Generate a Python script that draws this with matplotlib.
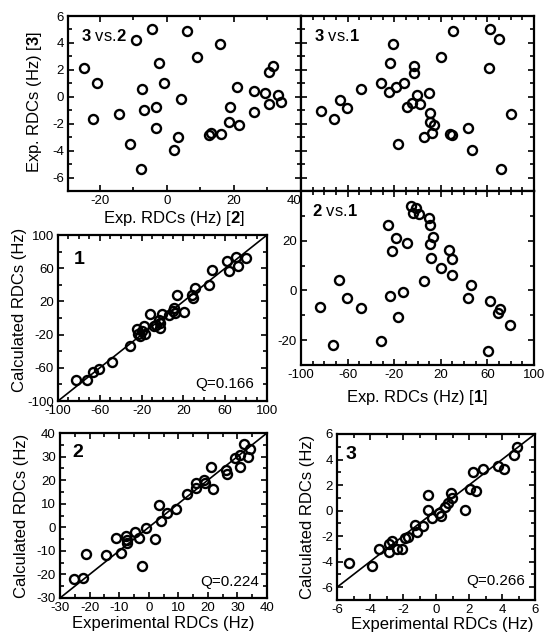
import matplotlib
matplotlib.use("Agg")
import matplotlib.pyplot as plt
from matplotlib.ticker import MultipleLocator

plt.rcParams['font.family'] = ['Liberation Sans', 'DejaVu Sans']
plt.rcParams['mathtext.fontset'] = 'custom'
plt.rcParams['mathtext.rm'] = 'Liberation Sans'
plt.rcParams['mathtext.bf'] = 'Liberation Sans:bold'
plt.rcParams['axes.unicode_minus'] = False

# --- dados ---
# 3 vs. 2 (RDC exp. da molecula 2 no eixo x, da 3 no eixo y)
x32 = [-24.7, -20.8, -22.1, -14.2, -10.9, -9.1, -4.4, -7.4, -6.9, -7.6, -2.4, -1.0,
       -3.4, -3.2, 4.1, 3.4, 2.1, 6.1, 9.0, 15.8, 12.7, 13.1, 16.0, 18.8, 18.6, 21.5,
       20.9, 26.1, 26.0, 29.2, 30.5, 31.7, 30.5, 33.2, 33.9]
y32 = [2.15, 1.01, -1.65, -1.26, -3.48, 4.25, 5.06, 0.57, -1.01, -5.36, 2.52, 1.01,
       -0.79, -2.32, -0.20, -2.99, -3.93, 4.89, 2.94, 3.90, -2.84, -2.69, -2.77, -0.77,
       -1.85, -2.10, 0.74, 0.40, -1.16, 0.30, 1.83, 2.32, -0.52, 0.12, -0.42]

# 3 vs. 1
x31 = [-83.1, -72.0, -66.6, -60.3, -48.3, -31.4, -24.6, -23.7, -21.4, -18.3, -12.0,
       -16.6, -8.9, -4.9, -0.6, 2.0, -2.9, -2.9, 10.0, 11.1, 10.9, 14.0, 12.3, 5.7,
       20.6, 30.6, 28.0, 29.7, 43.4, 46.6, 61.1, 62.6, 69.7, 80.0, 71.4]
y31 = [-1.04, -1.68, -0.22, -0.81, 0.57, 1.01, 0.35, 2.49, 3.90, 0.72, 1.01, -3.48,
       -0.79, -0.44, 0.15, -0.52, 2.30, 1.80, 0.30, -1.19, -1.85, -2.12, -2.72, -2.99,
       2.94, 4.86, -2.79, -2.86, -2.32, -3.93, 2.15, 5.06, 4.27, -1.26, -5.36]

# 2 vs. 1
x21 = [-83.4, -72.3, -67.1, -60.9, -48.9, -31.7, -24.9, -24.0, -22.0, -18.6, -17.1,
       -12.3, -8.6, -5.4, -3.7, -1.1, 1.1, 5.4, 9.7, 10.6, 13.7, 10.6, 12.0, 20.0,
       27.4, 29.4, 30.0, 43.1, 46.3, 60.9, 62.0, 68.9, 70.9, 79.4]
y21 = [-6.8, -21.9, 4.1, -3.2, -7.2, -20.5, 26.3, -2.1, 16.0, 21.1, -10.7, -0.7,
       18.9, 33.9, 31.2, 33.3, 30.9, 3.6, 29.3, 26.3, 21.5, 18.8, 13.1, 9.2, 16.1,
       12.8, 6.3, -3.1, 2.3, -24.4, -4.3, -8.9, -7.3, -14.0]

# molecula 1: experimental x calculado
exp1 = [-83.2, -72.2, -66.8, -60.4, -48.7, -31.1, -24.4, -23.2, -17.6, -16.4, -21.5,
        -12.0, -8.5, -3.5, -2.4, -0.5, 5.8, 11.0, 12.0, 14.2, 21.0, 28.8, 30.7, 44.2,
        47.0, 62.0, 63.3, 70.3, 71.9, 80.2, -6.2, 10.0, -19.5, -2.0, 28.0]
calc1 = [-74.7, -74.3, -64.7, -61.8, -53.2, -33.9, -12.8, -18.9, -9.6, -18.9, -21.8,
         5.1, -10.0, -2.5, -11.8, 5.0, 3.3, 12.2, 5.6, 28.3, 7.2, 23.8, 36.3, 39.7,
         58.1, 68.6, 57.1, 74.0, 63.2, 72.6, -8.4, 9.0, -15.5, -6.0, 28.0]

# molecula 2
exp2 = [-25.2, -22.3, -21.1, -14.6, -11.1, -9.3, -7.8, -7.2, -4.5, -3.4, -2.4, -1.0,
        2.1, 3.5, 4.0, 6.2, 9.1, 13.0, 16.0, 16.0, 18.8, 19.2, 21.2, 21.7, 26.1, 26.5,
        29.3, 31.0, 30.9, 32.1, 33.6, 34.4, -7.5]
calc2 = [-22.1, -21.7, -11.3, -11.8, -4.4, -11.1, -3.9, -6.8, -2.1, -4.6, -16.6, -0.3,
         -4.9, 9.6, 2.7, 6.2, 7.6, 14.1, 18.9, 16.8, 20.0, 18.9, 25.6, 16.3, 24.2, 22.7,
         29.3, 25.4, 30.6, 35.4, 30.0, 33.1, -5.5]

# molecula 3
exp3 = [-5.29, -3.88, -3.43, -2.87, -2.83, -2.69, -2.38, -2.08, -1.88, -1.68, -1.27,
        -1.17, -0.81, -0.51, -0.48, -0.24, 0.16, 0.32, 0.53, 0.73, 0.93, 0.97, 1.78,
        2.04, 2.22, 2.42, 2.85, 3.76, 4.14, 4.75, 4.91]
calc3 = [-4.10, -4.36, -3.03, -2.64, -3.26, -2.35, -3.00, -3.00, -2.14, -2.09, -1.10,
         -1.67, -1.17, 0.03, 1.20, -0.57, -0.16, -0.42, 0.29, 0.63, 1.41, 1.02, 0.03,
         1.72, 3.03, 1.57, 3.29, 3.50, 3.24, 4.39, 4.99]

W, H = 547, 638


def caixa(x0, y0, x1, y1):
    # converte um retangulo em pixels (origem no topo) para coords da figura
    return [x0 / W, 1 - y1 / H, (x1 - x0) / W, (y1 - y0) / H]


def estilo(ax, xlim, ylim, xmin, ymin):
    ax.set_xlim(xlim)
    ax.set_ylim(ylim)
    ax.xaxis.set_minor_locator(MultipleLocator(xmin))
    ax.yaxis.set_minor_locator(MultipleLocator(ymin))
    ax.tick_params(which='both', direction='in', top=True, right=True,
                   width=1.2, labelsize=9.5, pad=3)
    ax.tick_params(which='major', length=4)
    ax.tick_params(which='minor', length=3)
    for s in ax.spines.values():
        s.set_linewidth(1.6)


def pontos(ax, x, y):
    ax.plot(x, y, 'o', mfc='none', mec='k', ms=6.5, mew=1.7, clip_on=False)


fig = plt.figure(figsize=(5.47, 6.38), dpi=100)

ax32 = fig.add_axes(caixa(68, 16, 301, 191))
ax31 = fig.add_axes(caixa(301, 16, 534, 191))
ax21 = fig.add_axes(caixa(301, 191, 534, 365))
ax1 = fig.add_axes(caixa(58, 235, 267, 401))
ax2 = fig.add_axes(caixa(60, 433, 267, 598))
ax3 = fig.add_axes(caixa(337, 434, 535, 600))

# painel 3 vs 2
pontos(ax32, x32, y32)
ax32.set_xticks([-20, 0, 20, 40])
ax32.set_yticks([-6, -4, -2, 0, 2, 4, 6])
estilo(ax32, (-29.5, 40), (-7, 6), 10, 1)
ax32.get_xticklabels()[-1].set_horizontalalignment('right')
ax32.text(0.055, 0.886, r'$\mathbf{3}$ vs.$\mathbf{2}$', transform=ax32.transAxes,
          fontsize=12, va='center')
ax32.set_xlabel(r'Exp. RDCs (Hz) [$\mathbf{2}$]', fontsize=12)
ax32.xaxis.set_label_coords(0.455, -0.105)
ax32.set_ylabel(r'Exp. RDCs (Hz) [$\mathbf{3}$]', fontsize=12)
ax32.yaxis.set_label_coords(-0.105, 0.51)

# painel 3 vs 1
pontos(ax31, x31, y31)
ax31.set_xticks([-100, -60, -20, 20, 60, 100])
ax31.set_yticks([-6, -4, -2, 0, 2, 4, 6])
estilo(ax31, (-100, 100), (-7, 6), 10, 1)
ax31.tick_params(labelbottom=False, labelleft=False)
ax31.text(0.056, 0.887, r'$\mathbf{3}$ vs.$\mathbf{1}$', transform=ax31.transAxes,
          fontsize=12, va='center')

# painel 2 vs 1
pontos(ax21, x21, y21)
ax21.set_xticks([-100, -60, -20, 20, 60, 100])
ax21.set_yticks([-20, 0, 20])
estilo(ax21, (-100, 100), (-30, 40), 10, 10)
ax21.text(0.046, 0.887, r'$\mathbf{2}$ vs.$\mathbf{1}$', transform=ax21.transAxes,
          fontsize=12, va='center')
ax21.set_xlabel(r'Exp. RDCs (Hz) [$\mathbf{1}$]', fontsize=12)
ax21.xaxis.set_label_coords(0.5, -0.135)

# painel 1
ax1.plot([-100, 100], [-100, 100], 'k-', lw=1.2)
pontos(ax1, exp1, calc1)
ax1.set_xticks([-100, -60, -20, 20, 60, 100])
ax1.set_yticks([-100, -60, -20, 20, 60, 100])
estilo(ax1, (-100, 100), (-100, 100), 10, 20)
ax1.text(0.073, 0.851, '1', transform=ax1.transAxes, fontsize=14,
         fontweight='bold', va='center')
ax1.text(0.94, 0.102, 'Q=0.166', transform=ax1.transAxes, fontsize=11,
         ha='right', va='center')
ax1.set_ylabel('Calculated RDCs (Hz)', fontsize=12)
ax1.yaxis.set_label_coords(-0.15, 0.55)

# painel 2
ax2.plot([-30, 40], [-30, 40], 'k-', lw=1.2)
pontos(ax2, exp2, calc2)
ax2.set_xticks(range(-30, 41, 10))
ax2.set_yticks(range(-30, 41, 10))
estilo(ax2, (-30, 40), (-30, 40), 5, 5)
ax2.text(0.061, 0.879, '2', transform=ax2.transAxes, fontsize=14,
         fontweight='bold', va='center')
ax2.text(0.961, 0.097, 'Q=0.224', transform=ax2.transAxes, fontsize=11,
         ha='right', va='center')
ax2.set_ylabel('Calculated RDCs (Hz)', fontsize=12)
ax2.yaxis.set_label_coords(-0.152, 0.5)
ax2.set_xlabel('Experimental RDCs (Hz)', fontsize=12)
ax2.xaxis.set_label_coords(0.5, -0.11)

# painel 3
ax3.plot([-7, 6], [-7, 6], 'k-', lw=1.2)
pontos(ax3, exp3, calc3)
ax3.set_xticks([-6, -4, -2, 0, 2, 4, 6])
ax3.set_yticks([-6, -4, -2, 0, 2, 4, 6])
estilo(ax3, (-6, 6), (-7, 6), 1, 1)
ax3.text(0.045, 0.875, '3', transform=ax3.transAxes, fontsize=14,
         fontweight='bold', va='center')
ax3.text(0.951, 0.114, 'Q=0.266', transform=ax3.transAxes, fontsize=11,
         ha='right', va='center')
ax3.set_ylabel('Calculated RDCs (Hz)', fontsize=12)
ax3.yaxis.set_label_coords(-0.111, 0.5)
ax3.set_xlabel('Experimental RDCs (Hz)', fontsize=12)
ax3.xaxis.set_label_coords(0.533, -0.105)

fig.savefig('out.png', dpi=100)
